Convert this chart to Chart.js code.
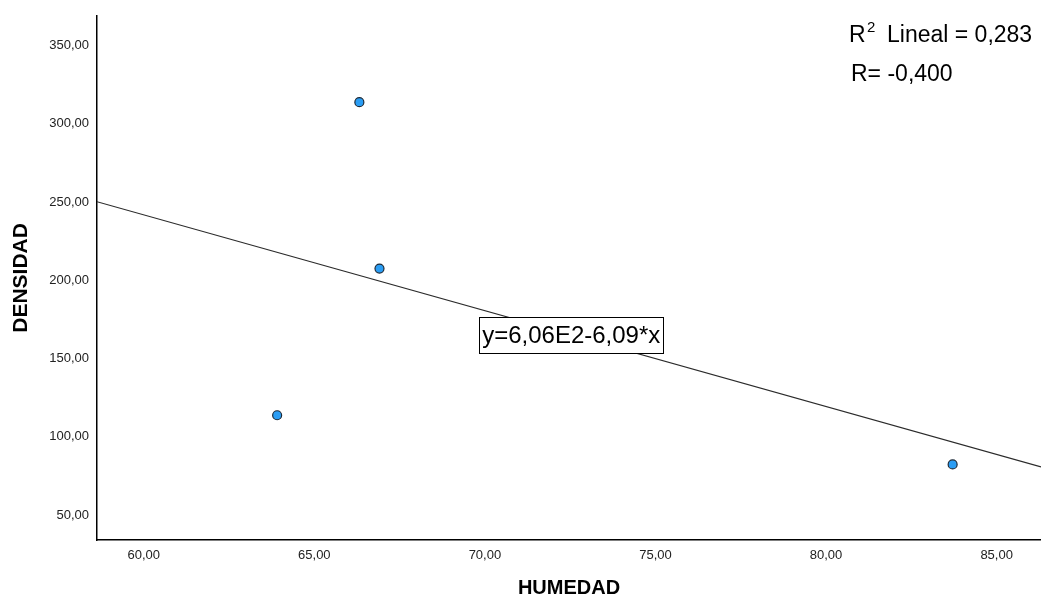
<!DOCTYPE html>
<html>
<head>
<meta charset="utf-8">
<script src="https://cdn.jsdelivr.net/npm/chart.js@4/dist/chart.umd.min.js"></script>
<style>
    body { margin: 0; background: #fff; }
    #wrap { width: 1041px; height: 602px; }
</style>
</head>
<body>
<div id="wrap"><canvas id="chart" width="1041" height="602"></canvas></div>
<script>
// values
const humedad = [63.91, 66.32, 66.91, 83.71];
const densidad = [113.8, 313.8, 207.5, 82.4];

// fit line ends as seen at the plot edges
const fitX = [58.63, 86.3];
const fitY = [250.2, 80.8];

const xTicks = [60, 65, 70, 75, 80, 85];
const yTicks = [50, 100, 150, 200, 250, 300, 350];

const eqText = 'y=6,06E2-6,09*x';
const r2Value = '0,283';
const rText = 'R= -0,400';

const fmt = v => v.toFixed(2).replace('.', ',');

const points = humedad.map((x, i) => ({ x: x, y: densidad[i] }));
const fitLine = fitX.map((x, i) => ({ x: x, y: fitY[i] }));

const annotations = {
    id: 'annotations',
    afterDatasetsDraw(chart) {
        const ctx = chart.ctx;
        const xs = chart.scales.x;
        const ys = chart.scales.y;
        ctx.save();
        ctx.fillStyle = '#000';
        ctx.textBaseline = 'alphabetic';

        // equation box sitting on the line
        ctx.font = '24px "Liberation Sans", Arial, sans-serif';
        const w = ctx.measureText(eqText).width;
        const cx = xs.getPixelForValue(72.53);
        const cy = ys.getPixelForValue(165);
        const bw = w + 6, bh = 36;
        ctx.fillStyle = '#fff';
        ctx.fillRect(cx - bw / 2, cy - bh / 2, bw, bh);
        ctx.strokeStyle = '#000';
        ctx.lineWidth = 1;
        ctx.strokeRect(Math.round(cx - bw / 2) + 0.5, Math.round(cy - bh / 2) + 0.5, Math.round(bw), bh);
        ctx.fillStyle = '#000';
        ctx.textAlign = 'center';
        ctx.fillText(eqText, cx, cy + 8);

        // R2 and R in the top right corner
        ctx.textAlign = 'left';
        ctx.font = '23px "Liberation Sans", Arial, sans-serif';
        ctx.fillText('R', 849, 42);
        ctx.font = '15px "Liberation Sans", Arial, sans-serif';
        ctx.fillText('2', 867, 32);
        ctx.font = '23px "Liberation Sans", Arial, sans-serif';
        ctx.fillText('Lineal = ' + r2Value, 887, 42);
        ctx.fillText(rText, 851, 81);
        ctx.restore();
    }
};

new Chart(document.getElementById('chart'), {
    type: 'scatter',
    data: {
        datasets: [
            {
                data: points,
                backgroundColor: '#2a9df4',
                borderColor: '#1d2a38',
                borderWidth: 1.2,
                pointRadius: 4.5,
                order: 0
            },
            {
                type: 'line',
                data: fitLine,
                borderColor: '#2b2b2b',
                borderWidth: 1.2,
                pointRadius: 0,
                fill: false,
                order: 1
            }
        ]
    },
    plugins: [annotations],
    options: {
        responsive: false,
        animation: false,
        layout: { autoPadding: false, padding: { top: 12, right: 0, left: 0, bottom: 0 } },
        plugins: {
            legend: { display: false },
            tooltip: { enabled: false }
        },
        scales: {
            x: {
                type: 'linear',
                min: 58.63,
                max: 86.3,
                afterBuildTicks: s => { s.ticks = xTicks.map(v => ({ value: v })); },
                afterFit: s => { s.height = 62; },
                grid: { display: false, drawTicks: false },
                border: { display: true, color: '#000', width: 1.5 },
                ticks: {
                    padding: 8,
                    color: '#222',
                    font: { family: '"Liberation Sans", Arial, sans-serif', size: 13 },
                    callback: v => fmt(v)
                },
                title: {
                    display: true,
                    text: 'HUMEDAD',
                    color: '#000',
                    padding: { top: 0, bottom: 2 },
                    font: { family: '"Liberation Sans", Arial, sans-serif', size: 20, weight: 'bold' }
                }
            },
            y: {
                type: 'linear',
                min: 34.1,
                max: 369,
                afterBuildTicks: s => { s.ticks = yTicks.map(v => ({ value: v })); },
                afterFit: s => { s.width = 97; },
                grid: { display: false, drawTicks: false },
                border: { display: true, color: '#000', width: 1.5 },
                ticks: {
                    padding: 8,
                    color: '#222',
                    font: { family: '"Liberation Sans", Arial, sans-serif', size: 13 },
                    callback: v => fmt(v)
                },
                title: {
                    display: true,
                    text: 'DENSIDAD',
                    color: '#000',
                    padding: { top: 9, bottom: 0 },
                    font: { family: '"Liberation Sans", Arial, sans-serif', size: 21, weight: 'bold' }
                }
            }
        }
    }
});
</script>
</body>
</html>
